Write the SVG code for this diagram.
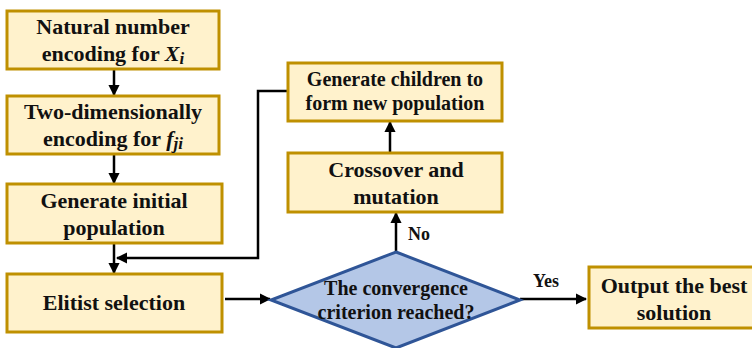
<svg xmlns="http://www.w3.org/2000/svg" width="752" height="348" viewBox="0 0 752 348">
<defs>
<style>
.box{fill:#FFF2CC;stroke:#BF9000;stroke-width:3}
.dia{fill:#B4C7E7;stroke:#2F5597;stroke-width:3}
text{font-family:'Liberation Serif','Times New Roman',serif;font-weight:bold;fill:#111;text-anchor:middle}
.l{fill:none;stroke:#000;stroke-width:2.5}
.m{font-style:italic}
</style>
<marker id="ah" viewBox="0 0 10 10" refX="9" refY="5" markerWidth="4.5" markerHeight="4.5" orient="auto">
<path d="M0,0 L10,5 L0,10 z" fill="#000"/>
</marker>
</defs>
<rect width="752" height="348" fill="#fff"/>
<g id="connectors">
<line class="l" x1="114" y1="70" x2="114" y2="95" marker-end="url(#ah)"/>
<line class="l" x1="114" y1="155" x2="114" y2="183" marker-end="url(#ah)"/>
<line class="l" x1="114" y1="244" x2="114" y2="273" marker-end="url(#ah)"/>
<polyline class="l" points="288,91 258,91 258,258 117,258" marker-end="url(#ah)"/>
<line class="l" x1="225" y1="299" x2="270" y2="299" marker-end="url(#ah)"/>
<line class="l" x1="396" y1="252" x2="396" y2="213" marker-end="url(#ah)"/>
<line class="l" x1="390" y1="153" x2="390" y2="122" marker-end="url(#ah)"/>
<line class="l" x1="520" y1="299" x2="586" y2="299" marker-end="url(#ah)"/>
<text x="419" y="240" font-size="18">No</text>
<text x="546" y="287" font-size="18">Yes</text>
</g>
<g id="n1">
<rect class="box" x="7" y="11" width="212" height="58"/>
<text x="113" y="34" font-size="22">Natural number</text>
<text x="113" y="61" font-size="22">encoding for <tspan class="m">X</tspan><tspan class="m" font-size="17" dy="3">i</tspan></text>
</g>
<g id="n2">
<rect class="box" x="7" y="96" width="212" height="58"/>
<text x="113" y="119" font-size="22">Two-dimensionally</text>
<text x="113" y="146" font-size="22">encoding for <tspan class="m">f</tspan><tspan class="m" font-size="17" dy="3">ji</tspan></text>
</g>
<g id="n3">
<rect class="box" x="7" y="184" width="215" height="59"/>
<text x="114" y="208" font-size="22">Generate initial</text>
<text x="114" y="235" font-size="22">population</text>
</g>
<g id="n4">
<rect class="box" x="7" y="274" width="215" height="58"/>
<text x="114" y="310" font-size="22">Elitist selection</text>
</g>
<g id="n5">
<rect class="box" x="288" y="63" width="214" height="58"/>
<text x="395" y="86" font-size="20">Generate children to</text>
<text x="395" y="110" font-size="20">form new population</text>
</g>
<g id="n6">
<rect class="box" x="288" y="153" width="214" height="59"/>
<text x="396" y="177" font-size="22">Crossover and</text>
<text x="396" y="204" font-size="22">mutation</text>
</g>
<g id="n7">
<polygon class="dia" points="396,252 520,300 396,348 271,300"/>
<text x="396" y="295" font-size="20">The convergence</text>
<text x="396" y="319" font-size="20">criterion reached?</text>
</g>
<g id="n8">
<rect class="box" x="589" y="267" width="170" height="61"/>
<text x="674" y="293" font-size="22">Output the best</text>
<text x="674" y="320" font-size="22">solution</text>
</g>
</svg>
